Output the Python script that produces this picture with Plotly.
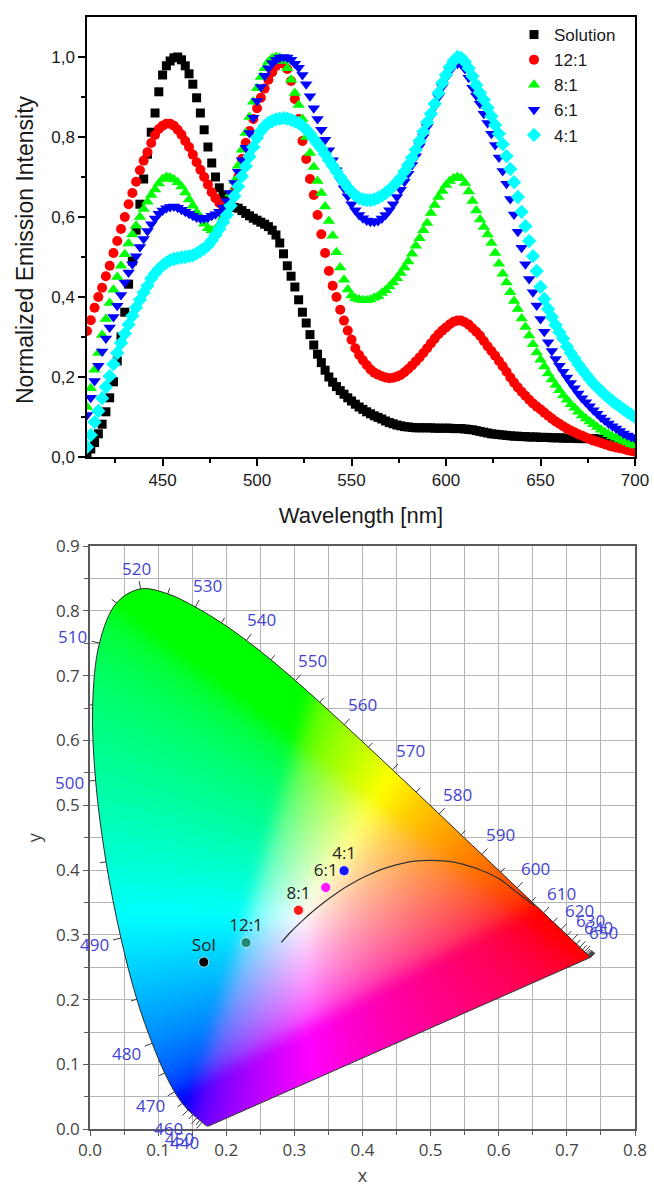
import base64
import struct
import zlib

import numpy as np
import plotly.graph_objects as go

W, H = 654, 1187

# ---------------- Emission spectra (top panel) ----------------
wavelength_nm = list(range(410, 702, 2))

solution = [
    0.005, 0.020, 0.036, 0.058, 0.082, 0.113, 0.148, 0.188, 0.240, 0.300,
    0.362, 0.432, 0.490, 0.567, 0.632, 0.695, 0.757, 0.812, 0.860, 0.913,
    0.955, 0.978, 0.990, 0.998, 1.000, 0.993, 0.978, 0.958, 0.932, 0.898,
    0.860, 0.818, 0.775, 0.735, 0.700, 0.673, 0.655, 0.642, 0.632, 0.624,
    0.622, 0.616, 0.609, 0.603, 0.597, 0.592, 0.587, 0.582, 0.576, 0.567,
    0.555, 0.535, 0.508, 0.478, 0.452, 0.425, 0.393, 0.362, 0.335, 0.306,
    0.280, 0.257, 0.236, 0.217, 0.200, 0.187, 0.176, 0.166, 0.157, 0.148,
    0.140, 0.132, 0.125, 0.119, 0.113, 0.108, 0.103, 0.099, 0.095, 0.090,
    0.086, 0.083, 0.080, 0.078, 0.076, 0.075, 0.074, 0.073, 0.073, 0.073,
    0.073, 0.073, 0.072, 0.072, 0.072, 0.072, 0.072, 0.071, 0.071, 0.071,
    0.070, 0.069, 0.068, 0.066, 0.064, 0.062, 0.060, 0.058, 0.057, 0.056,
    0.055, 0.054, 0.053, 0.052, 0.052, 0.051, 0.051, 0.050, 0.050, 0.050,
    0.049, 0.049, 0.049, 0.048, 0.048, 0.048, 0.047, 0.047, 0.047, 0.047,
    0.046, 0.046, 0.046, 0.046, 0.046, 0.045, 0.045, 0.045, 0.045, 0.045,
    0.045, 0.044, 0.044, 0.044, 0.044, 0.044,
]

ratio_12_1 = [
    0.315, 0.342, 0.373, 0.400, 0.423, 0.452, 0.478, 0.510, 0.540, 0.570,
    0.600, 0.632, 0.660, 0.688, 0.717, 0.741, 0.762, 0.785, 0.805, 0.820,
    0.828, 0.833, 0.833, 0.828, 0.818, 0.806, 0.790, 0.775, 0.756, 0.737,
    0.718, 0.700, 0.681, 0.662, 0.647, 0.635, 0.627, 0.625, 0.638, 0.665,
    0.700, 0.745, 0.785, 0.815, 0.845, 0.872, 0.898, 0.921, 0.943, 0.962,
    0.977, 0.985, 0.984, 0.970, 0.940, 0.895, 0.845, 0.790, 0.745, 0.695,
    0.655, 0.605, 0.557, 0.510, 0.465, 0.428, 0.400, 0.368, 0.341, 0.316,
    0.293, 0.272, 0.255, 0.242, 0.230, 0.219, 0.211, 0.206, 0.202, 0.199,
    0.197, 0.198, 0.201, 0.205, 0.212, 0.220, 0.229, 0.239, 0.249, 0.260,
    0.272, 0.284, 0.296, 0.307, 0.316, 0.324, 0.332, 0.338, 0.341, 0.341,
    0.337, 0.331, 0.322, 0.313, 0.303, 0.290, 0.277, 0.265, 0.253, 0.240,
    0.227, 0.213, 0.199, 0.186, 0.174, 0.163, 0.153, 0.143, 0.134, 0.126,
    0.119, 0.111, 0.103, 0.096, 0.089, 0.083, 0.077, 0.071, 0.066, 0.062,
    0.057, 0.053, 0.049, 0.045, 0.041, 0.038, 0.035, 0.032, 0.029, 0.026,
    0.024, 0.022, 0.020, 0.017, 0.015, 0.013,
]

ratio_8_1 = [
    0.125, 0.172, 0.218, 0.260, 0.305, 0.345, 0.385, 0.418, 0.450, 0.478,
    0.507, 0.534, 0.556, 0.578, 0.600, 0.620, 0.638, 0.655, 0.669, 0.684,
    0.695, 0.700, 0.699, 0.694, 0.687, 0.676, 0.661, 0.644, 0.628, 0.612,
    0.597, 0.583, 0.572, 0.567, 0.569, 0.580, 0.600, 0.628, 0.658, 0.690,
    0.728, 0.768, 0.810, 0.850, 0.888, 0.922, 0.950, 0.972, 0.988, 0.997,
    1.000, 0.998, 0.990, 0.972, 0.943, 0.910, 0.880, 0.845, 0.800, 0.760,
    0.725, 0.690, 0.660, 0.626, 0.590, 0.553, 0.512, 0.474, 0.443, 0.419,
    0.404, 0.397, 0.394, 0.392, 0.392, 0.394, 0.398, 0.402, 0.410, 0.417,
    0.426, 0.436, 0.447, 0.460, 0.474, 0.489, 0.508, 0.528, 0.547, 0.567,
    0.585, 0.610, 0.630, 0.650, 0.665, 0.680, 0.690, 0.697, 0.700, 0.697,
    0.685, 0.664, 0.640, 0.616, 0.594, 0.575, 0.556, 0.535, 0.510, 0.483,
    0.458, 0.436, 0.412, 0.390, 0.370, 0.346, 0.325, 0.304, 0.282, 0.261,
    0.243, 0.226, 0.209, 0.194, 0.180, 0.167, 0.154, 0.143, 0.132, 0.123,
    0.113, 0.104, 0.096, 0.089, 0.082, 0.075, 0.068, 0.062, 0.057, 0.052,
    0.048, 0.044, 0.040, 0.036, 0.032, 0.029,
]

ratio_6_1 = [
    0.105, 0.148, 0.190, 0.228, 0.264, 0.296, 0.324, 0.350, 0.378, 0.405,
    0.436, 0.461, 0.482, 0.502, 0.525, 0.545, 0.565, 0.582, 0.596, 0.608,
    0.616, 0.622, 0.625, 0.626, 0.623, 0.618, 0.613, 0.608, 0.603, 0.599,
    0.596, 0.596, 0.598, 0.603, 0.607, 0.613, 0.624, 0.640, 0.660, 0.685,
    0.713, 0.742, 0.773, 0.810, 0.848, 0.890, 0.925, 0.953, 0.972, 0.985,
    0.993, 0.998, 1.000, 0.999, 0.993, 0.983, 0.973, 0.955, 0.932, 0.902,
    0.872, 0.845, 0.818, 0.793, 0.767, 0.742, 0.717, 0.692, 0.672, 0.652,
    0.632, 0.617, 0.605, 0.597, 0.591, 0.588, 0.588, 0.590, 0.596, 0.605,
    0.617, 0.632, 0.650, 0.668, 0.688, 0.708, 0.730, 0.752, 0.777, 0.800,
    0.825, 0.852, 0.877, 0.900, 0.925, 0.948, 0.965, 0.978, 0.983, 0.982,
    0.970, 0.948, 0.923, 0.903, 0.883, 0.858, 0.835, 0.808, 0.780, 0.749,
    0.715, 0.683, 0.645, 0.606, 0.563, 0.523, 0.482, 0.445, 0.412, 0.379,
    0.345, 0.313, 0.287, 0.265, 0.245, 0.228, 0.213, 0.199, 0.185, 0.172,
    0.159, 0.147, 0.137, 0.127, 0.117, 0.108, 0.099, 0.091, 0.084, 0.077,
    0.071, 0.065, 0.059, 0.054, 0.050, 0.047,
]

ratio_4_1 = [
    0.025, 0.055, 0.087, 0.115, 0.147, 0.175, 0.202, 0.232, 0.260, 0.285,
    0.308, 0.331, 0.353, 0.374, 0.393, 0.411, 0.428, 0.446, 0.459, 0.470,
    0.479, 0.486, 0.492, 0.495, 0.497, 0.499, 0.500, 0.502, 0.504, 0.509,
    0.515, 0.521, 0.529, 0.541, 0.555, 0.570, 0.587, 0.605, 0.628, 0.652,
    0.676, 0.702, 0.727, 0.751, 0.775, 0.798, 0.815, 0.827, 0.835, 0.840,
    0.844, 0.846, 0.847, 0.846, 0.843, 0.839, 0.835, 0.828, 0.819, 0.808,
    0.795, 0.783, 0.771, 0.757, 0.742, 0.728, 0.714, 0.700, 0.687, 0.674,
    0.663, 0.654, 0.647, 0.644, 0.642, 0.642, 0.644, 0.648, 0.653, 0.660,
    0.667, 0.677, 0.687, 0.698, 0.714, 0.730, 0.748, 0.768, 0.790, 0.813,
    0.837, 0.858, 0.883, 0.910, 0.935, 0.955, 0.975, 0.990, 1.000, 0.998,
    0.988, 0.972, 0.952, 0.930, 0.910, 0.893, 0.873, 0.852, 0.830, 0.808,
    0.782, 0.752, 0.720, 0.687, 0.650, 0.613, 0.577, 0.540, 0.502, 0.465,
    0.425, 0.395, 0.370, 0.350, 0.330, 0.312, 0.296, 0.276, 0.260, 0.246,
    0.232, 0.219, 0.207, 0.195, 0.184, 0.174, 0.165, 0.156, 0.148, 0.140,
    0.133, 0.126, 0.119, 0.112, 0.106, 0.100,
]

series_names = ["Solution", "12:1", "8:1", "6:1", "4:1"]
series_values = [solution, ratio_12_1, ratio_8_1, ratio_6_1, ratio_4_1]
series_colors = ["#000000", "#ff0000", "#00ff00", "#0000ff", "#00ffff"]
series_symbols = ["square", "circle", "triangle-up", "triangle-down", "diamond"]
series_sizes = [9, 10, 11, 11, 11]

top_x_ticks = [450, 500, 550, 600, 650, 700]
top_x_minor = [425, 475, 525, 575, 625, 675]
top_y_ticks = [0.0, 0.2, 0.4, 0.6, 0.8, 1.0]
top_y_ticklabels = ["0,0", "0,2", "0,4", "0,6", "0,8", "1,0"]
top_y_minor = [0.1, 0.3, 0.5, 0.7, 0.9]

# ---------------- CIE 1931 chromaticity (bottom panel) ----------------
locus_nm = list(range(380, 705, 5))
locus_x = [
    0.1741, 0.1740, 0.1738, 0.1736, 0.1733, 0.1730, 0.1726, 0.1721, 0.1714, 0.1703,
    0.1689, 0.1669, 0.1644, 0.1611, 0.1566, 0.1510, 0.1440, 0.1355, 0.1241, 0.1096,
    0.0913, 0.0687, 0.0454, 0.0235, 0.0082, 0.0039, 0.0139, 0.0389, 0.0743, 0.1142,
    0.1547, 0.1929, 0.2296, 0.2658, 0.3016, 0.3373, 0.3731, 0.4087, 0.4441, 0.4788,
    0.5125, 0.5448, 0.5752, 0.6029, 0.6270, 0.6482, 0.6658, 0.6801, 0.6915, 0.7006,
    0.7079, 0.7140, 0.7190, 0.7230, 0.7260, 0.7283, 0.7300, 0.7311, 0.7320, 0.7327,
    0.7334, 0.7340, 0.7344, 0.7346, 0.7347,
]
locus_y = [
    0.0050, 0.0050, 0.0049, 0.0049, 0.0048, 0.0048, 0.0048, 0.0048, 0.0051, 0.0058,
    0.0069, 0.0086, 0.0109, 0.0138, 0.0177, 0.0227, 0.0297, 0.0399, 0.0578, 0.0868,
    0.1327, 0.2007, 0.2950, 0.4127, 0.5384, 0.6548, 0.7502, 0.8120, 0.8338, 0.8262,
    0.8059, 0.7816, 0.7543, 0.7243, 0.6923, 0.6589, 0.6245, 0.5896, 0.5547, 0.5202,
    0.4866, 0.4544, 0.4242, 0.3965, 0.3725, 0.3514, 0.3340, 0.3197, 0.3083, 0.2993,
    0.2920, 0.2859, 0.2809, 0.2770, 0.2740, 0.2717, 0.2700, 0.2689, 0.2680, 0.2673,
    0.2666, 0.2660, 0.2656, 0.2654, 0.2653,
]
tick_nm = list(range(440, 705, 5))
label_nm = list(range(440, 655, 10))

planck_x = [0.2807, 0.2950, 0.3064, 0.3135, 0.3221, 0.3325, 0.3451, 0.3608, 0.3805,
            0.4053, 0.4369, 0.4769, 0.5267, 0.5492, 0.5743, 0.6005, 0.6250, 0.6528]
planck_y = [0.2884, 0.3048, 0.3166, 0.3236, 0.3318, 0.3411, 0.3516, 0.3636, 0.3768,
            0.3907, 0.4041, 0.4137, 0.4133, 0.4085, 0.3998, 0.3865, 0.3670, 0.3444]

sample_names = ["Sol", "12:1", "8:1", "6:1", "4:1"]
sample_x = [0.167, 0.229, 0.306, 0.346, 0.373]
sample_y = [0.258, 0.288, 0.338, 0.373, 0.399]
sample_colors = ["#000000", "#1b8a78", "#ff1a1a", "#ff1aff", "#1414ff"]

cie_x_ticks = [0.0, 0.1, 0.2, 0.3, 0.4, 0.5, 0.6, 0.7, 0.8]
cie_y_ticks = [0.0, 0.1, 0.2, 0.3, 0.4, 0.5, 0.6, 0.7, 0.8, 0.9]

# ---------------- layout geometry ----------------
TOP_X = [87 / W, 635 / W]
TOP_Y = [1 - 457 / H, 1 - 17 / H]
BOT_X = [90 / W, 635 / W]
BOT_Y = [1 - 1129.3 / H, 1 - 546 / H]
CIE_XR = [0.0, 0.8]
CIE_YR = [0.0, 0.9]
kx = W * (BOT_X[1] - BOT_X[0]) / (CIE_XR[1] - CIE_XR[0])   # px per unit x
ky = H * (BOT_Y[1] - BOT_Y[0]) / (CIE_YR[1] - CIE_YR[0])   # px per unit y

TOPFONT = "Liberation Sans, Arial, sans-serif"
BOTFONT = "Open Sans, Noto Sans, sans-serif"
LABEL_BLUE = "#4343d4"

# ---------------- gamut image ----------------
lx = np.array(locus_x)
ly = np.array(locus_y)
nx_img = int(round(kx * 0.8))
ny_img = int(round(ky * 0.9))


def catmull(px, py, sub=12):
    """Smooth outline for the fill mask (same role as the spline line drawn on top)."""
    P = np.stack([px * kx, py * ky], axis=1)
    P = np.vstack([P[0], P, P[-1]])
    out = []
    for i in range(1, len(P) - 2):
        p0, p1, p2, p3 = P[i - 1], P[i], P[i + 1], P[i + 2]
        for t in np.linspace(0, 1, sub, endpoint=False):
            t2, t3 = t * t, t * t * t
            out.append(0.5 * ((2 * p1) + (-p0 + p2) * t + (2 * p0 - 5 * p1 + 4 * p2 - p3) * t2
                              + (-p0 + 3 * p1 - 3 * p2 + p3) * t3))
    out.append(P[-2])
    out = np.array(out)
    return out[:, 0] / kx, out[:, 1] / ky


def inside_poly(px, py, polx, poly):
    res = np.zeros(px.shape, dtype=bool)
    n = len(polx)
    j = n - 1
    for i in range(n):
        xi, yi, xj, yj = polx[i], poly[i], polx[j], poly[j]
        cond = ((yi > py) != (yj > py)) & (px < (xj - xi) * (py - yi) / (yj - yi + 1e-12) + xi)
        res ^= cond
        j = i
    return res


def blur1d(a, r, axis):
    pad = [(0, 0)] * a.ndim
    pad[axis] = (r + 1, r)
    c = np.cumsum(np.pad(a, pad, mode="edge"), axis=axis)
    n = a.shape[axis]
    hi = np.take(c, np.arange(2 * r + 1, 2 * r + 1 + n), axis=axis)
    lo = np.take(c, np.arange(0, n), axis=axis)
    return (hi - lo) / (2 * r + 1)


mask_x, mask_y = catmull(lx, ly)
ddx, ddy = 0.8 / nx_img, 0.9 / ny_img
gx = (np.arange(nx_img) + 0.5) * ddx
gy = (np.arange(ny_img) + 0.5) * ddy          # row 0 = bottom (y = 0)
GX, GY = np.meshgrid(gx, gy)
alpha = np.zeros(GX.shape)
for ox in (-0.25, 0.25):
    for oy in (-0.25, 0.25):
        alpha += inside_poly(GX + ox * ddx, GY + oy * ddy, mask_x, mask_y)
alpha /= 4.0

yy = np.clip(GY, 0.002, None)
Xc = GX / yy
Yc = np.ones_like(GX)
Zc = (1 - GX - yy) / yy
r = 3.2406 * Xc - 1.5372 * Yc - 0.4986 * Zc
g = -0.9689 * Xc + 1.8758 * Yc + 0.0415 * Zc
b = 0.0557 * Xc - 0.2040 * Yc + 1.0570 * Zc
rgb = np.clip(np.stack([r, g, b], axis=-1), 0, None)
rgb = rgb / np.maximum(rgb.max(axis=-1, keepdims=True), 1e-9)
rgb = np.where(rgb <= 0.0031308, 12.92 * rgb, 1.055 * np.power(rgb, 1 / 2.4) - 0.055)
for _ in range(2):
    rgb = blur1d(rgb, 7, 0)
    rgb = blur1d(rgb, 7, 1)
rgba = np.concatenate([np.clip(rgb, 0, 1), alpha[..., None]], axis=-1)
rgba = (rgba * 255 + 0.5).astype(np.uint8)


def png_bytes(arr):
    h, w, _ = arr.shape
    a = arr.astype(np.int16)
    f = a.copy()
    f[:, 1:, :] = a[:, 1:, :] - a[:, :-1, :]
    f = (f % 256).astype(np.uint8)
    raw = b"".join(b"\x01" + f[i].tobytes() for i in range(h))

    def chunk(t, d):
        return struct.pack(">I", len(d)) + t + d + struct.pack(">I", zlib.crc32(t + d) & 0xFFFFFFFF)

    ihdr = struct.pack(">IIBBBBB", w, h, 8, 6, 0, 0, 0)
    return (b"\x89PNG\r\n\x1a\n" + chunk(b"IHDR", ihdr)
            + chunk(b"IDAT", zlib.compress(raw, 9)) + chunk(b"IEND", b""))


gamut_uri = "data:image/png;base64," + base64.b64encode(png_bytes(rgba)).decode()

# ---------------- locus ticks and labels ----------------
tick_xs, tick_ys = [], []
lab_px, lab_py, lab_txt = [], [], []
for lam in tick_nm:
    i = locus_nm.index(lam)
    i0, i1 = max(i - 1, 0), min(i + 1, len(locus_nm) - 1)
    tx = (lx[i1] - lx[i0]) * kx
    ty = (ly[i1] - ly[i0]) * ky
    nrm = np.hypot(tx, ty)
    nxv, nyv = -ty / nrm, tx / nrm
    L = 8 if lam in label_nm else 6
    tick_xs += [lx[i], lx[i] + nxv * L / kx, None]
    tick_ys += [ly[i], ly[i] + nyv * L / ky, None]
    if lam in label_nm:
        d = L + 3 + 0.5 * (30 * abs(nxv) + 15 * abs(nyv))
        cx = lx[i] + nxv * d / kx
        cy = ly[i] + nyv * d / ky
        # convert to paper fractions (labels may sit outside the axis ranges)
        lab_px.append(BOT_X[0] + (cx - CIE_XR[0]) / (CIE_XR[1] - CIE_XR[0]) * (BOT_X[1] - BOT_X[0]))
        lab_py.append(BOT_Y[0] + (cy - CIE_YR[0]) / (CIE_YR[1] - CIE_YR[0]) * (BOT_Y[1] - BOT_Y[0]))
        lab_txt.append(str(lam))

# ---------------- figure ----------------
fig = go.Figure()

for name, vals, col, sym, sz in zip(series_names, series_values, series_colors,
                                    series_symbols, series_sizes):
    fig.add_trace(go.Scatter(
        x=wavelength_nm, y=vals, mode="markers", name=name,
        marker=dict(symbol=sym, color=col, size=sz, line=dict(width=0)),
        xaxis="x", yaxis="y",
    ))

fig.add_trace(go.Image(
    source=gamut_uri, x0=ddx / 2, y0=ddy / 2, dx=ddx, dy=ddy,
    xaxis="x2", yaxis="y2", hoverinfo="skip",
))
fig.add_trace(go.Scatter(
    x=locus_x, y=locus_y, mode="lines",
    line=dict(color="#2a2a2a", width=1, shape="spline"), showlegend=False,
    xaxis="x2", yaxis="y2", hoverinfo="skip",
))
fig.add_trace(go.Scatter(
    x=[locus_x[-1], locus_x[0]], y=[locus_y[-1], locus_y[0]], mode="lines",
    line=dict(color="#2a2a2a", width=1), showlegend=False,
    xaxis="x2", yaxis="y2", hoverinfo="skip",
))
fig.add_trace(go.Scatter(
    x=tick_xs, y=tick_ys, mode="lines", line=dict(color="#3a3a3a", width=1),
    showlegend=False, xaxis="x2", yaxis="y2", hoverinfo="skip",
))
fig.add_trace(go.Scatter(
    x=planck_x, y=planck_y, mode="lines", line=dict(color="#333333", width=1.2, shape="spline"),
    showlegend=False, xaxis="x2", yaxis="y2", hoverinfo="skip",
))
fig.add_trace(go.Scatter(
    x=sample_x, y=sample_y, text=sample_names, mode="markers+text",
    marker=dict(color=sample_colors, size=10, line=dict(color="rgba(255,255,255,0.7)", width=1)),
    textposition="top center", textfont=dict(family=BOTFONT, size=17, color="#222222"),
    showlegend=False, xaxis="x2", yaxis="y2",
))

annotations = [
    dict(x=px_, y=py_, xref="paper", yref="paper", text=t, showarrow=False,
         xanchor="center", yanchor="middle",
         font=dict(family=BOTFONT, size=17, color=LABEL_BLUE))
    for px_, py_, t in zip(lab_px, lab_py, lab_txt)
]
annotations.append(dict(
    x=25 / W, y=1 - 250 / H, xref="paper", yref="paper", text="Normalized Emission Intensity",
    textangle=-90, showarrow=False, xanchor="center", yanchor="middle",
    font=dict(family=TOPFONT, size=23, color="#1a1a1a"),
))

top_axis_common = dict(
    showline=True, linecolor="black", linewidth=1.5, mirror=True,
    ticks="outside", ticklen=7, tickwidth=1.5, tickcolor="black",
    showgrid=False, zeroline=False, automargin=False,
    tickfont=dict(family=TOPFONT, size=17, color="#1a1a1a"),
)
bot_axis_common = dict(
    showline=True, linecolor="#5a5a5a", linewidth=1.5, mirror=True,
    ticks="outside", ticklen=5, tickwidth=1, tickcolor="#5a5a5a",
    showgrid=True, gridcolor="#b4b4b4", gridwidth=1, zeroline=False, automargin=False,
    tickfont=dict(family=BOTFONT, size=17, color="#444444"), tickformat=".1f",
    autorange=False,
)

fig.update_layout(
    width=W, height=H, margin=dict(l=0, r=0, t=0, b=0),
    paper_bgcolor="white", plot_bgcolor="white",
    xaxis=dict(domain=TOP_X, anchor="y", range=[410, 700], tickvals=top_x_ticks,
               minor=dict(tickvals=top_x_minor, ticks="outside", ticklen=4, tickwidth=1.5,
                          tickcolor="black"),
               title=dict(text="Wavelength [nm]", standoff=18,
                          font=dict(family=TOPFONT, size=22, color="#1a1a1a")),
               **top_axis_common),
    yaxis=dict(domain=TOP_Y, anchor="x", range=[0, 1.1], tickvals=top_y_ticks,
               ticktext=top_y_ticklabels,
               minor=dict(tickvals=top_y_minor, ticks="outside", ticklen=4, tickwidth=1.5,
                          tickcolor="black"),
               **top_axis_common),
    xaxis2=dict(domain=BOT_X, anchor="y2", range=CIE_XR, tickvals=cie_x_ticks,
                minor=dict(dtick=0.05, tick0=0, showgrid=True, gridcolor="#b4b4b4",
                           ticks="outside", ticklen=4, tickcolor="#5a5a5a"),
                title=dict(text="x", standoff=15,
                           font=dict(family=BOTFONT, size=18, color="#444444")),
                **bot_axis_common),
    yaxis2=dict(domain=BOT_Y, anchor="x2", range=CIE_YR, tickvals=cie_y_ticks,
                scaleanchor=False,
                minor=dict(dtick=0.05, tick0=0, showgrid=True, gridcolor="#b4b4b4",
                           ticks="outside", ticklen=4, tickcolor="#5a5a5a"),
                title=dict(text="y", standoff=10,
                           font=dict(family=BOTFONT, size=18, color="#444444")),
                **bot_axis_common),
    legend=dict(x=514 / W, y=1 - 17 / H, xanchor="left", yanchor="top",
                bgcolor="rgba(0,0,0,0)", borderwidth=0,
                font=dict(family=TOPFONT, size=17, color="#1a1a1a")),
    annotations=annotations,
    showlegend=True,
)

fig.write_html("out.html")
